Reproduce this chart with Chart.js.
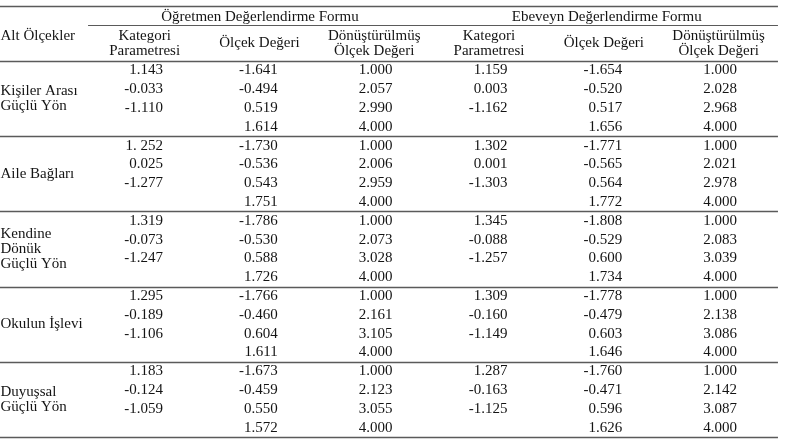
<!DOCTYPE html>
<html lang="tr">
<head>
<meta charset="utf-8">
<title>Alt Ölçekler</title>
<script src="https://cdn.jsdelivr.net/npm/chart.js@4.4.1/dist/chart.umd.min.js"></script>
<style>
    html, body { margin: 0; padding: 0; background: #ffffff; }
    canvas { display: block; }
</style>
</head>
<body>
<canvas id="table-chart" width="786" height="440"></canvas>
<script>
const subscales = [
    ["Kişiler Arası", "Güçlü Yön"],
    ["Aile Bağları"],
    ["Kendine", "Dönük", "Güçlü Yön"],
    ["Okulun İşlevi"],
    ["Duyuşsal", "Güçlü Yön"],
];
const forms = ["Öğretmen Değerlendirme Formu", "Ebeveyn Değerlendirme Formu"];
const columnHeaders = [["Kategori", "Parametresi"], ["Ölçek Değeri"], ["Dönüştürülmüş", "Ölçek Değeri"]];
const cornerLabel = "Alt Ölçekler";

// Öğretmen formu
const ogretmenKategori = [
    ["1.143", "-0.033", "-1.110"],
    ["1. 252", "0.025", "-1.277"],
    ["1.319", "-0.073", "-1.247"],
    ["1.295", "-0.189", "-1.106"],
    ["1.183", "-0.124", "-1.059"],
];
const ogretmenOlcek = [
    ["-1.641", "-0.494", "0.519", "1.614"],
    ["-1.730", "-0.536", "0.543", "1.751"],
    ["-1.786", "-0.530", "0.588", "1.726"],
    ["-1.766", "-0.460", "0.604", "1.611"],
    ["-1.673", "-0.459", "0.550", "1.572"],
];
const ogretmenDonusturulmus = [
    ["1.000", "2.057", "2.990", "4.000"],
    ["1.000", "2.006", "2.959", "4.000"],
    ["1.000", "2.073", "3.028", "4.000"],
    ["1.000", "2.161", "3.105", "4.000"],
    ["1.000", "2.123", "3.055", "4.000"],
];

// Ebeveyn formu
const ebeveynKategori = [
    ["1.159", "0.003", "-1.162"],
    ["1.302", "0.001", "-1.303"],
    ["1.345", "-0.088", "-1.257"],
    ["1.309", "-0.160", "-1.149"],
    ["1.287", "-0.163", "-1.125"],
];
const ebeveynOlcek = [
    ["-1.654", "-0.520", "0.517", "1.656"],
    ["-1.771", "-0.565", "0.564", "1.772"],
    ["-1.808", "-0.529", "0.600", "1.734"],
    ["-1.778", "-0.479", "0.603", "1.646"],
    ["-1.760", "-0.471", "0.596", "1.626"],
];
const ebeveynDonusturulmus = [
    ["1.000", "2.028", "2.968", "4.000"],
    ["1.000", "2.021", "2.978", "4.000"],
    ["1.000", "2.083", "3.039", "4.000"],
    ["1.000", "2.138", "3.086", "4.000"],
    ["1.000", "2.142", "3.087", "4.000"],
];

const columns = [ogretmenKategori, ogretmenOlcek, ogretmenDonusturulmus, ebeveynKategori, ebeveynOlcek, ebeveynDonusturulmus];

const ROWS_PER_GROUP = 4;
const FONT = '15px "Liberation Serif", "Times New Roman", serif';
const TEXT_COLOR = "#141414";
const RULE_COLOR = "#5a5a5a";

// one scatter dataset per numeric column; x = column index, y = row index
function buildDatasets() {
    return columns.map((col, ci) => {
        const points = [];
        col.forEach((group, g) => {
            group.forEach((value, r) => {
                points.push({ x: ci, y: g * ROWS_PER_GROUP + r + 0.5, label: value });
            });
        });
        return { data: points, pointRadius: 0, pointHoverRadius: 0, showLine: false };
    });
}

const tablePlugin = {
    id: "tablePlugin",
    afterDatasetsDraw(chart) {
        const ctx = chart.ctx;
        const xs = chart.scales.x;
        const ys = chart.scales.y;
        const px = (v) => xs.getPixelForValue(v);
        const py = (v) => ys.getPixelForValue(v);
        const groups = subscales.length;

        ctx.save();

        // rules
        ctx.strokeStyle = RULE_COLOR;
        const rule = (x1, x2, y, w) => {
            ctx.lineWidth = w;
            ctx.beginPath();
            ctx.moveTo(px(x1), Math.round(py(y)) + 0.5);
            ctx.lineTo(px(x2), Math.round(py(y)) + 0.5);
            ctx.stroke();
        };
        rule(xs.min, 5.357, -2.93, 1.6);
        rule(-0.653, 5.357, -1.915, 1.2);
        for (let g = 0; g <= groups; g++) {
            rule(xs.min, 5.357, g * ROWS_PER_GROUP, 1.6);
        }

        ctx.font = FONT;
        ctx.fillStyle = TEXT_COLOR;
        ctx.textBaseline = "middle";

        // form spanners
        ctx.textAlign = "center";
        forms.forEach((f, i) => {
            ctx.fillText(f, px(0.845 + i * 3.02), py(-2.34));
        });

        // column headers
        for (let ci = 0; ci < columns.length; ci++) {
            const lines = columnHeaders[ci % 3];
            const cx = px(ci - 0.16);
            if (lines.length === 1) {
                ctx.fillText(lines[0], cx, py(-0.96));
            } else {
                ctx.fillText(lines[0], cx, py(-1.33));
                ctx.fillText(lines[1], cx, py(-0.53));
            }
        }

        // corner + subscale names
        ctx.textAlign = "left";
        const lx = px(xs.min) + 0.5;
        ctx.fillText(cornerLabel, lx, py(-1.33));
        subscales.forEach((lines, g) => {
            const mid = g * ROWS_PER_GROUP + ROWS_PER_GROUP / 2;
            lines.forEach((t, k) => {
                ctx.fillText(t, lx, py(mid + (k - (lines.length - 1) / 2) * 0.82));
            });
        });

        // cell values, right aligned on each point
        ctx.textAlign = "right";
        chart.data.datasets.forEach((ds, di) => {
            const meta = chart.getDatasetMeta(di);
            meta.data.forEach((el, i) => {
                ctx.fillText(ds.data[i].label, el.x, el.y);
            });
        });

        ctx.restore();
    },
};

const chart = new Chart(document.getElementById("table-chart").getContext("2d"), {
    type: "scatter",
    data: { datasets: buildDatasets() },
    options: {
        animation: false,
        responsive: false,
        events: [],
        layout: { padding: 0 },
        scales: {
            x: { type: "linear", display: false, min: -1.42, max: 5.427 },
            y: { type: "linear", display: false, reverse: true, min: -3.245, max: 20.16 },
        },
        plugins: {
            legend: { display: false },
            tooltip: { enabled: false },
        },
    },
    plugins: [tablePlugin],
});
</script>
</body>
</html>
